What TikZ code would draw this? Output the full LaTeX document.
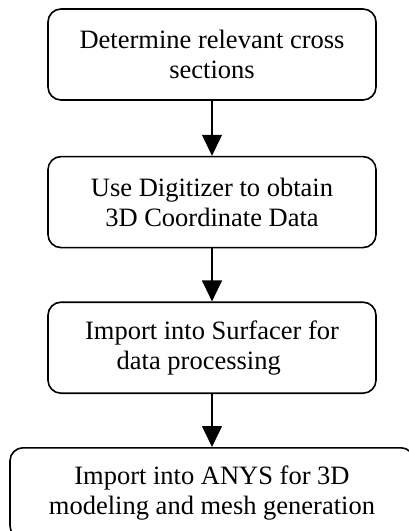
\documentclass[tikz,border=0pt]{standalone}
\usepackage{fontspec}
\setmainfont{Liberation Serif}
\usetikzlibrary{positioning,arrows.meta}

\tikzset{
  stepbox/.style={draw, line width=1.6pt, rounded corners=13pt,
    minimum width=328pt, minimum height=91pt, align=center,
    font=\fontsize{26.5}{30}\selectfont},
  flow/.style={line width=1.3pt, -{Triangle[length=21pt,width=20pt]}}
}

\begin{document}
\begin{tikzpicture}
    \useasboundingbox (0,0) rectangle (409pt,-531pt);
    \clip (0,0) rectangle (409pt,-531pt);

    % The steps, top to bottom
    \node[stepbox] (det) at (212pt,-54.5pt) {Determine relevant cross\\sections};
    \node[stepbox, below=55pt of det] (dig) {Use Digitizer to obtain\\3D Coordinate Data};
    \node[stepbox, below=53pt of dig] (surf) {Import into Surfacer for\\data processing\hspace*{1em}};
    \node[stepbox, below=53pt of surf, minimum width=404pt] (ansys) {Import into ANYS for 3D\\modeling and mesh generation};

    % Arrows between the steps
    \draw[flow] (det) -- (dig);
    \draw[flow] (dig) -- (surf);
    \draw[flow] (surf) -- (ansys);
\end{tikzpicture}
\end{document}
